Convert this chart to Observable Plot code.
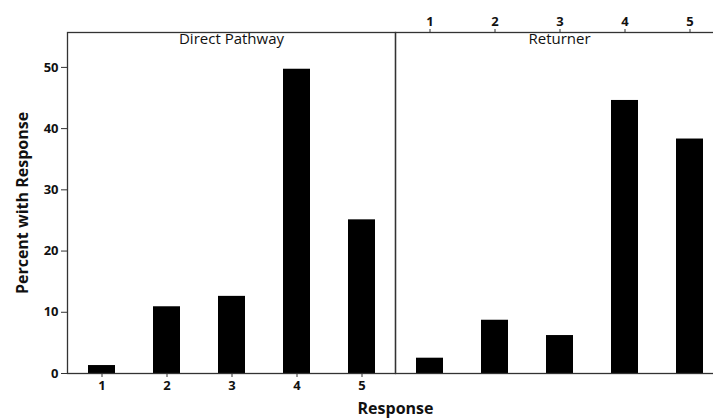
<!DOCTYPE html>
<html>
<head>
<meta charset="utf-8">
<script src="https://cdn.jsdelivr.net/npm/d3@7"></script>
<script src="https://cdn.jsdelivr.net/npm/@observablehq/plot@0.6"></script>
<style>
  html, body { margin: 0; padding: 0; background: #fff; overflow: hidden; }
  #chart { width: 713px; height: 419px; overflow: hidden; }
  #chart svg { max-width: none !important; }
</style>
</head>
<body>
<div id="chart"></div>
<script>
const groups = ["Direct Pathway", "Returner"];
const responses = [1, 2, 3, 4, 5];
const directPathway = [1.3, 10.9, 12.6, 49.7, 25.1];
const returner = [2.5, 8.7, 6.2, 44.6, 38.3];
const yTicks = [0, 10, 20, 30, 40, 50];
const yLabel = "Percent with Response";
const xLabel = "Response";

const data = [
  ...responses.map((r, i) => ({group: groups[0], response: r, value: directPathway[i]})),
  ...responses.map((r, i) => ({group: groups[1], response: r, value: returner[i]}))
];

const chart = Plot.plot({
  width: 740,
  height: 419,
  marginLeft: 67,
  marginRight: 17,
  marginTop: 32,
  marginBottom: 46,
  style: {fontFamily: "'Open Sans', sans-serif", background: "#fff", color: "#111"},
  fx: {domain: groups, paddingInner: 0, paddingOuter: 0, axis: null},
  x: {domain: responses, paddingInner: 0.59, paddingOuter: 0.295},
  y: {domain: [0, 55.7]},
  marks: [
    Plot.barY(data, {fx: "group", x: "response", y: "value", fill: "#000"}),
    Plot.frame({stroke: "#333", strokeWidth: 1.3}),
    Plot.text(groups, {fx: d => d, text: d => d, frameAnchor: "top", lineAnchor: "top", dy: 1, fontSize: 15, fill: "#111"}),
    Plot.axisY({ticks: yTicks, tickSize: 6, tickPadding: 3, fontSize: 13, fontWeight: "bold", label: null, stroke: "#333"}),
    Plot.text([yLabel], {fx: () => groups[0], text: d => d, frameAnchor: "left", textAnchor: "middle", rotate: -90, dx: -45, fontSize: 16, fontWeight: "bold", fill: "#111"}),
    Plot.axisX({anchor: "bottom", facetAnchor: "left", tickSize: 4, tickPadding: 3, fontSize: 13, fontWeight: "bold", label: null, stroke: "#333"}),
    Plot.axisX({anchor: "top", facetAnchor: "right", tickSize: 4, tickPadding: 3, fontSize: 13, fontWeight: "bold", label: null, stroke: "#333"}),
    Plot.axisFx({anchor: "bottom", tickSize: 0, tickFormat: () => "", label: xLabel, labelArrow: "none", labelAnchor: "center", labelOffset: 40, fontSize: 16, fontWeight: "bold"})
  ]
});
document.getElementById("chart").appendChild(chart);
</script>
</body>
</html>
